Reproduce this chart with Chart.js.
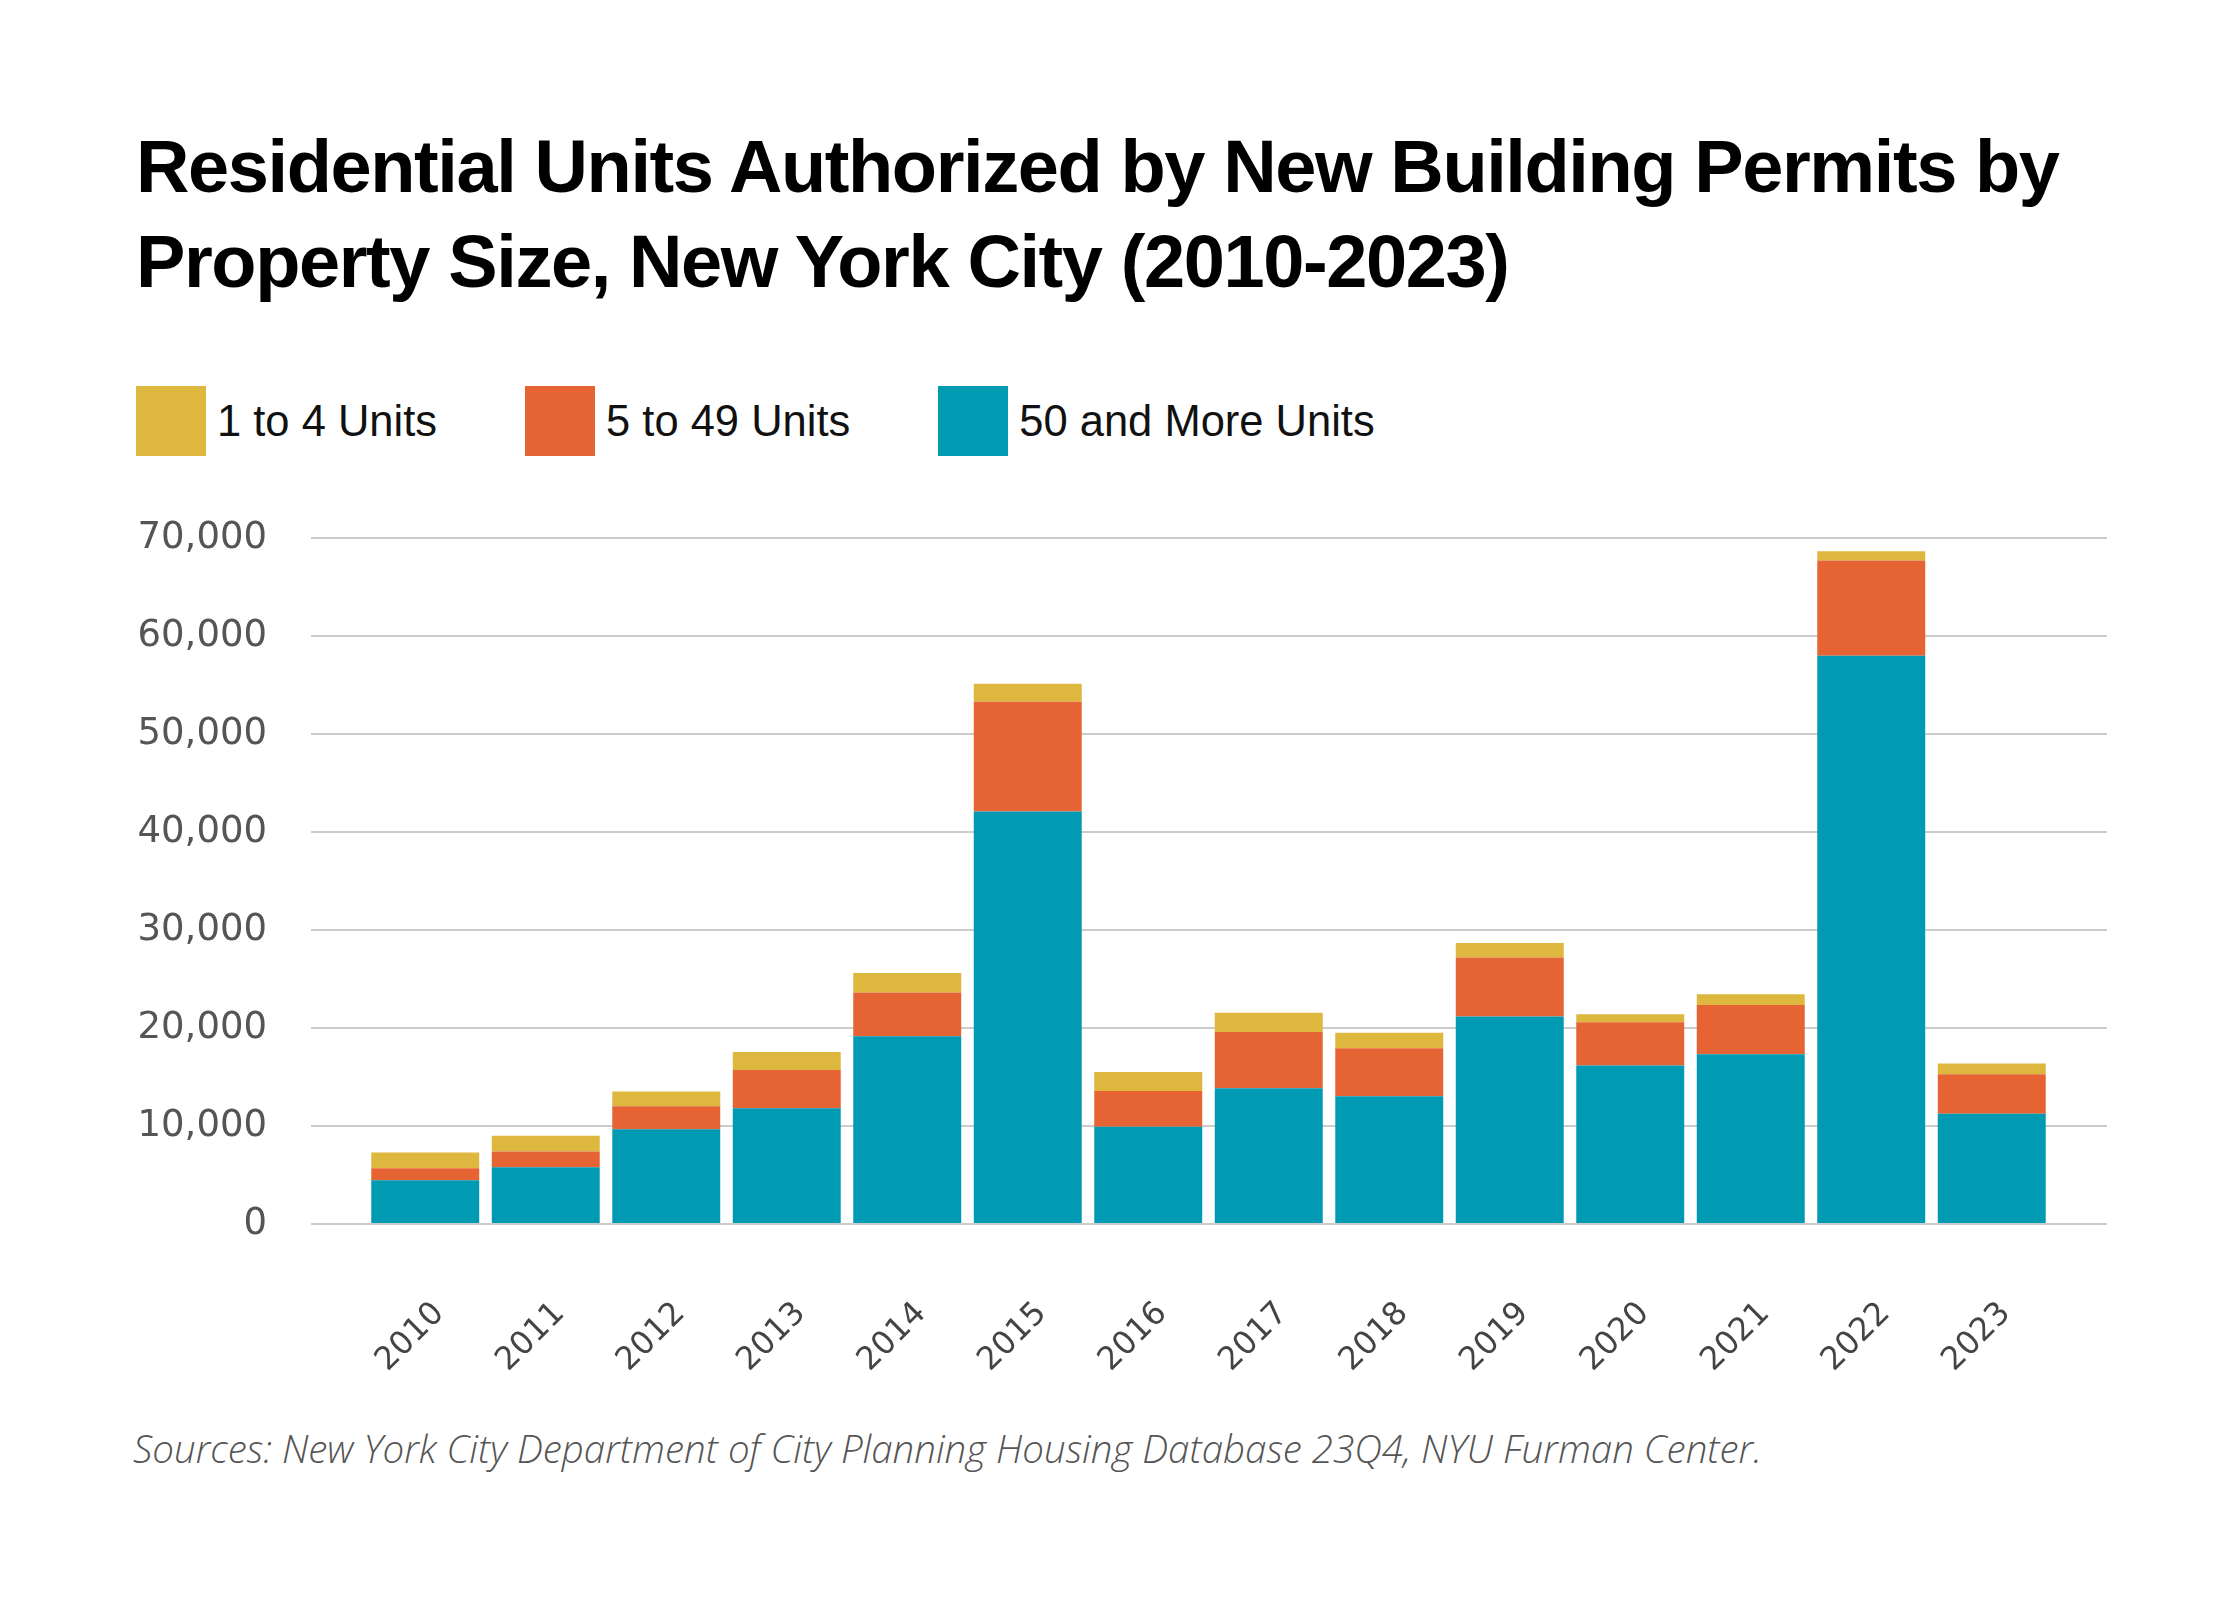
<!DOCTYPE html>
<html>
<head>
<meta charset="utf-8">
<script src="https://cdn.jsdelivr.net/npm/chart.js@4"></script>
<style>
    body { margin: 0; background: #fff; }
    #page { position: relative; width: 2240px; height: 1600px; background: #fff; overflow: hidden; }
    #title {
        position: absolute; left: 136px; top: 119px; margin: 0;
        font-family: "Liberation Sans Narrow", "Liberation Sans", sans-serif;
        font-weight: bold; font-size: 74px; line-height: 95px; color: #000;
        letter-spacing: -1.4px; white-space: nowrap;
    }
    #legend {
        position: absolute; left: 136px; top: 386px; height: 70px;
        display: flex; align-items: center;
        font-family: "Liberation Sans Narrow", "Liberation Sans", sans-serif;
        font-size: 43.5px; color: #111;
    }
    .legend-item { display: flex; align-items: center; margin-right: 88px; line-height: 70px; }
    .legend-box { width: 70px; height: 70px; margin-right: 11px; }
    #chart-wrap { position: absolute; left: 0; top: 472px; width: 2240px; height: 906px; }
    #source {
        position: absolute; left: 133px; top: 1428px; margin: 0;
        font-family: "Open Sans", sans-serif; font-style: italic; font-weight: 300;
        font-size: 38.5px; line-height: 40px; color: #555; white-space: nowrap;
    }
</style>
</head>
<body>
<div id="page">
    <h1 id="title">Residential Units Authorized by New Building Permits by<br>Property Size, New York City (2010-2023)</h1>
    <div id="legend"></div>
    <div id="chart-wrap"><canvas id="myChart"></canvas></div>
    <p id="source">Sources: New York City Department of City Planning Housing Database 23Q4, NYU Furman Center.</p>
</div>

<script>
// Data
const years = ["2010", "2011", "2012", "2013", "2014", "2015", "2016",
    "2017", "2018", "2019", "2020", "2021", "2022", "2023"];
const units50Plus = [4460, 5790, 9680, 11820, 19170, 42100, 9920,
    13860, 13050, 21170, 16180, 17320, 58000, 11250];
const units5to49 = [1240, 1610, 2330, 3890, 4460, 11200, 3650,
    5740, 4890, 6030, 4410, 5030, 9730, 4030];
const units1to4 = [1610, 1610, 1520, 1850, 1990, 1850, 1950,
    1950, 1570, 1470, 810, 1090, 950, 1090];
const yTicks = [0, 10000, 20000, 30000, 40000, 50000, 60000, 70000];

const colors = {
    small: "#DDB73E",
    mid: "#E66434",
    large: "#009AB2"
};

const gridColor = "#cccccc";

function renderLegend() {
    const items = [
        { name: "1 to 4 Units", color: colors.small },
        { name: "5 to 49 Units", color: colors.mid },
        { name: "50 and More Units", color: colors.large }
    ];
    const legend = document.getElementById("legend");
    legend.innerHTML = "";
    items.forEach(item => {
        const div = document.createElement("div");
        div.className = "legend-item";
        div.innerHTML = `<span class="legend-box" style="background:${item.color}"></span><span>${item.name}</span>`;
        legend.appendChild(div);
    });
}

function renderChart() {
    const ctx = document.getElementById("myChart");

    new Chart(ctx, {
        type: "bar",
        data: {
            labels: years,
            datasets: [
                { label: "50 and More Units", data: units50Plus, backgroundColor: colors.large },
                { label: "5 to 49 Units", data: units5to49, backgroundColor: colors.mid },
                { label: "1 to 4 Units", data: units1to4, backgroundColor: colors.small }
            ]
        },
        options: {
            responsive: true,
            maintainAspectRatio: false,
            animation: false,
            datasets: {
                bar: { categoryPercentage: 1, barPercentage: 0.896, borderWidth: 0 }
            },
            // top space comes from the y tick label height + padding
            layout: { padding: { top: 0, left: 0, right: 133, bottom: 0 } },
            plugins: {
                legend: { display: false },
                tooltip: { enabled: false }
            },
            scales: {
                x: {
                    stacked: true,
                    grid: { display: false },
                    border: { display: false },
                    ticks: {
                        color: "#444",
                        font: { family: "DejaVu Sans", size: 32 },
                        minRotation: 45,
                        maxRotation: 45,
                        padding: 63,
                        labelOffset: 14
                    },
                    afterFit(axis) { axis.height = 154; }
                },
                y: {
                    stacked: true,
                    min: 0,
                    max: 70000,
                    border: { display: false },
                    grid: { color: gridColor, lineWidth: 2, drawTicks: true, tickLength: 54 },
                    ticks: {
                        stepSize: 10000,
                        color: "#555",
                        font: { family: "DejaVu Sans", size: 37 },
                        padding: 44,
                        callback: v => v.toLocaleString("en-US")
                    },
                    afterBuildTicks(axis) { axis.ticks = yTicks.map(v => ({ value: v })); },
                    afterFit(axis) { axis.width = 365; }
                },
                yRight: {
                    position: "right",
                    min: 0,
                    max: 70000,
                    border: { display: false },
                    grid: { color: gridColor, lineWidth: 2, drawOnChartArea: false, drawTicks: true, tickLength: 55 },
                    ticks: { display: false, stepSize: 10000 },
                    afterFit(axis) { axis.width = 55; }
                }
            }
        }
    });
}

window.onload = () => {
    renderLegend();
    renderChart();
};
</script>
</body>
</html>
